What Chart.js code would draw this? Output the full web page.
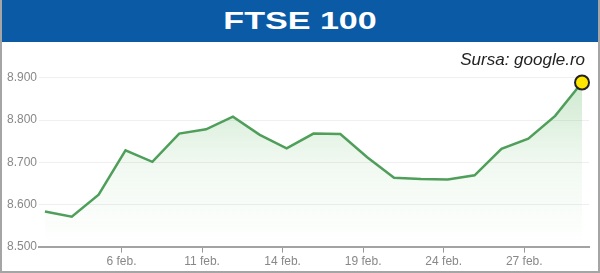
<!DOCTYPE html>
<html lang="ro">
<head>
    <meta charset="UTF-8">
    <title>FTSE 100</title>
    <script src="https://cdn.jsdelivr.net/npm/chart.js"></script>
    <style>
        body {
            margin: 0;
            background: #fff;
            font-family: "Liberation Sans", Arial, sans-serif;
        }

        .box {
            position: relative;
            width: 600px;
            height: 273px;
            box-sizing: border-box;
            border: 2px solid #a5a5a5;
            border-top: 0;
            overflow: hidden;
        }

        .title {
            position: absolute;
            left: 0;
            top: 0;
            width: 596px;
            height: 42px;
            background: #0b5aa6;
            color: #fff;
            text-align: center;
        }

        .title span {
            display: inline-block;
            font-weight: bold;
            font-size: 24px;
            line-height: 42px;
            transform: scaleX(1.42);
        }

        .source {
            position: absolute;
            right: 13px;
            top: 50px;
            font-size: 17px;
            font-style: italic;
            line-height: 20px;
            color: #222;
            z-index: 2;
        }

        .chart {
            position: absolute;
            left: 0;
            top: 42px;
            width: 596px;
            height: 229px;
        }
    </style>
</head>
<body>
    <div class="box">
        <div class="title"><span>FTSE 100</span></div>
        <div class="source">Sursa: google.ro</div>
        <div class="chart">
            <canvas id="ftse"></canvas>
        </div>
    </div>

    <script>
        // zile de tranzactionare
        const days = ['3 feb.', '4 feb.', '5 feb.', '6 feb.', '7 feb.', '10 feb.', '11 feb.',
            '12 feb.', '13 feb.', '14 feb.', '17 feb.', '18 feb.', '19 feb.', '20 feb.',
            '21 feb.', '24 feb.', '25 feb.', '26 feb.', '27 feb.', '28 feb.', '3 mar.'];
        const values = [8583, 8571, 8623, 8728, 8701, 8768, 8778, 8808, 8765, 8733, 8768,
            8767, 8712, 8663, 8660, 8659, 8669, 8732, 8756, 8810, 8889];
        const xTickLabels = ['6 feb.', '11 feb.', '14 feb.', '19 feb.', '24 feb.', '27 feb.'];
        const yTicks = [8500, 8600, 8700, 8800, 8900];

        function fmt(v) {
            return Math.floor(v / 1000) + '.' + String(v % 1000).padStart(3, '0');
        }

        const last = values.length - 1;
        const ctx = document.getElementById('ftse').getContext('2d');

        new Chart(ctx, {
            type: 'line',
            data: {
                datasets: [{
                    data: values.map((v, i) => ({ x: i, y: v })),
                    borderColor: '#4f9f5b',
                    borderWidth: 2.5,
                    tension: 0,
                    fill: 'start',
                    backgroundColor: (c) => {
                        const area = c.chart.chartArea;
                        if (!area) return 'rgba(76,175,80,0.15)';
                        const g = c.chart.ctx.createLinearGradient(0, area.top, 0, area.bottom);
                        g.addColorStop(0, 'rgba(76,175,80,0.32)');
                        g.addColorStop(0.55, 'rgba(76,175,80,0.08)');
                        g.addColorStop(1, 'rgba(76,175,80,0)');
                        return g;
                    },
                    pointRadius: (c) => c.dataIndex === last ? 7 : 0,
                    pointHoverRadius: (c) => c.dataIndex === last ? 7 : 0,
                    pointBackgroundColor: '#ffe600',
                    pointBorderColor: '#222',
                    pointBorderWidth: 2,
                    clip: false
                }]
            },
            options: {
                responsive: true,
                maintainAspectRatio: false,
                animation: false,
                layout: {
                    padding: { left: 5, right: 6, top: 19, bottom: 0 }
                },
                plugins: {
                    legend: { display: false },
                    tooltip: { enabled: false }
                },
                scales: {
                    x: {
                        type: 'linear',
                        min: -0.22,
                        max: 20.26,
                        afterBuildTicks: (scale) => {
                            scale.ticks = xTickLabels.map(d => ({ value: days.indexOf(d) - 0.15 }));
                        },
                        ticks: {
                            color: '#888',
                            font: { size: 12, family: '"Liberation Sans", Arial' },
                            padding: 2,
                            maxRotation: 0,
                            autoSkip: false,
                            callback: (v) => days[Math.round(v)]
                        },
                        grid: {
                            drawOnChartArea: false,
                            drawTicks: true,
                            tickLength: 6,
                            color: '#999'
                        },
                        border: { display: true, color: '#a3a3a3', width: 2 }
                    },
                    y: {
                        min: 8500,
                        max: 8940,
                        afterBuildTicks: (scale) => {
                            scale.ticks = yTicks.map(v => ({ value: v }));
                        },
                        ticks: {
                            color: '#888',
                            font: { size: 12, family: '"Liberation Sans", Arial' },
                            padding: 1,
                            crossAlign: 'far',
                            callback: (v) => fmt(v)
                        },
                        grid: {
                            color: '#efefef',
                            drawTicks: false
                        },
                        border: { display: false }
                    }
                }
            }
        });
    </script>
</body>
</html>
